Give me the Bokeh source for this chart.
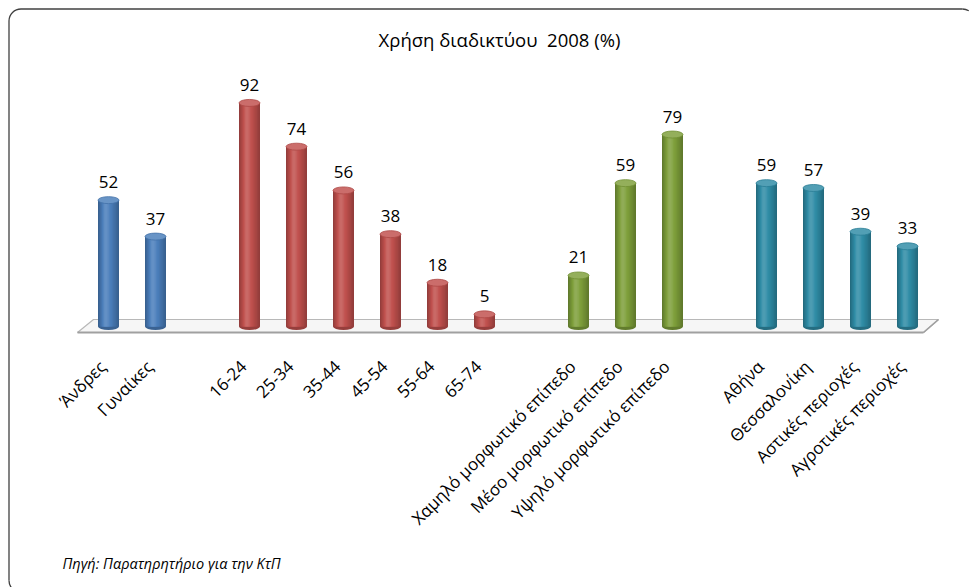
import math
from bokeh.plotting import figure
from bokeh.models import Range1d, Label, ColumnDataSource
from bokeh.core.properties import value
from bokeh.embed import file_html
from bokeh.resources import INLINE

# ---------------- data ----------------
title_text = "Χρήση διαδικτύου\u00a0 2008 (%)"
source_text = "Πηγή: Παρατηρητήριο για την ΚτΠ"

gender_labels = ["Άνδρες", "Γυναίκες"]
gender_values = [52, 37]

age_labels = ["16-24", "25-34", "35-44", "45-54", "55-64", "65-74"]
age_values = [92, 74, 56, 38, 18, 5]

edu_labels = ["Χαμηλό μορφωτικό επίπεδο", "Μέσο μορφωτικό επίπεδο", "Υψηλό μορφωτικό επίπεδο"]
edu_values = [21, 59, 79]

area_labels = ["Αθήνα", "Θεσσαλονίκη", "Αστικές περιοχές", "Αγροτικές περιοχές"]
area_values = [59, 57, 39, 33]

group_colors = ["#4A7EBB", "#C0504D", "#7E9F3A", "#2F8CA6"]

groups = [
    (gender_labels, gender_values),
    (age_labels, age_values),
    (edu_labels, edu_values),
    (area_labels, area_values),
]

# ---------------- layout helpers (page pixels -> data) ----------------
W, H = 974, 587
X0, SLOT = 108.0, 47.0      # page x of slot 0, pixels per slot
Y0, PPU = 326.0, 2.43       # page y of value 0, pixels per unit


def px_x(cx):
    return (cx - X0) / SLOT


def px_y(cy):
    return (Y0 - cy) / PPU


# slot positions: one empty slot between groups
xs, vals, labs, cols = [], [], [], []
pos = 0
for gi, (gl, gv) in enumerate(groups):
    for l, v in zip(gl, gv):
        xs.append(pos)
        vals.append(v)
        labs.append(l)
        cols.append(group_colors[gi])
        pos += 1
    pos += 1


def hex2rgb(h):
    h = h.lstrip("#")
    return tuple(int(h[i:i + 2], 16) for i in (0, 2, 4))


def shade(h, b):
    r, g, bl = hex2rgb(h)
    if b <= 1:
        c = (r * b, g * b, bl * b)
    else:
        k = min(1.0, (b - 1) * 1.4)
        c = (r + (255 - r) * k, g + (255 - g) * k, bl + (255 - bl) * k)
    return "#%02x%02x%02x" % tuple(int(max(0, min(255, round(x)))) for x in c)


p = figure(width=W, height=H, output_backend="svg", toolbar_location=None,
           x_range=Range1d(px_x(0), px_x(W)), y_range=Range1d(px_y(H), px_y(0)),
           x_axis_type=None, y_axis_type=None, min_border=0, title=None)
p.outline_line_color = None
p.background_fill_color = "white"
p.border_fill_color = "white"

# floor
fl_x = [px_x(93), px_x(938), px_x(923), px_x(77)]
fl_y = [px_y(319), px_y(319), px_y(332), px_y(332)]
p.patch(fl_x, fl_y, fill_color="#F6F6F6", line_color="#B8B8B8", line_width=1.2)
p.line([px_x(77), px_x(923)], [px_y(332), px_y(332)], line_color="#A0A0A0", line_width=2.2)
p.line([px_x(923), px_x(938)], [px_y(332), px_y(319)], line_color="#A0A0A0", line_width=1.6)

# cylinders: layered bars, each narrower and lighter, around a highlight left of centre
BW = 21.0 / SLOT
p.ellipse(x=xs, y=[0] * len(xs), width=21, height=7, width_units="screen", height_units="screen",
          fill_color=[shade(c, 0.78) for c in cols], line_color=None)
M = 9
for k in range(M):
    f = 1.0 - k * (0.85 / (M - 1))          # width fraction
    b = 0.76 + 0.34 * (k / (M - 1)) ** 0.9  # brightness
    cx_off = -0.12 * BW * (k / (M - 1))     # highlight shift to the left
    p.vbar(x=[x + cx_off for x in xs], width=BW * f, top=vals, bottom=0,
           fill_color=[shade(c, b) for c in cols], line_color=None)
p.ellipse(x=xs, y=vals, width=21, height=7, width_units="screen", height_units="screen",
          fill_color=[shade(c, 1.12) for c in cols], line_color=[shade(c, 0.9) for c in cols], line_width=0.8)

# value labels
src = ColumnDataSource(dict(x=xs, y=vals, t=[str(v) for v in vals], lab=labs))
p.text(x="x", y="y", text="t", source=src, text_align="center", text_baseline="middle",
       y_offset=-18, text_font=value("Open Sans"), text_font_size="17px", text_color="#000000")

# category labels
p.text(x="x", y=0, text="lab", source=src, angle=math.pi / 4, text_align="right",
       text_baseline="middle", x_offset=-6, y_offset=37,
       text_font=value("Open Sans"), text_font_size="17px", text_color="#000000")

# white strip along the right edge (nothing of the chart lives there)
p.quad(left=[px_x(945)], right=[px_x(W + 10)], top=[px_y(12)], bottom=[px_y(H + 10)],
       fill_color="white", line_color=None)

# rounded frame: only top and left edges are inside the picture
R = 12
bc, bw = "#404040", 1.3
p.line([px_x(8.5 + R), px_x(962)], [px_y(8.5), px_y(8.5)], line_color=bc, line_width=bw)
p.arc(x=[px_x(962)], y=[px_y(8.5 + R)], radius=R, radius_units="screen",
      start_angle=math.pi / 2 - 0.55, end_angle=math.pi / 2, line_color=bc, line_width=bw)
p.line([px_x(8.5), px_x(8.5)], [px_y(8.5 + R), px_y(592 - R)], line_color=bc, line_width=bw)
p.arc(x=[px_x(8.5 + R)], y=[px_y(8.5 + R)], radius=R, radius_units="screen",
      start_angle=math.pi / 2, end_angle=math.pi, line_color=bc, line_width=bw)
p.arc(x=[px_x(8.5 + R)], y=[px_y(592 - R)], radius=R, radius_units="screen",
      start_angle=math.pi, end_angle=1.5 * math.pi, line_color=bc, line_width=bw)

# title and source
p.add_layout(Label(x=px_x(499), y=px_y(39), text=title_text, text_align="center",
                   text_baseline="middle", text_font="Open Sans", text_font_size="18.5px",
                   text_color="#000000"))
p.add_layout(Label(x=px_x(62), y=px_y(563), text=source_text, text_align="left",
                   text_baseline="middle", text_font="Open Sans", text_font_style="italic",
                   text_font_size="14.5px", text_color="#000000"))

open("out.html", "w").write(file_html(p, INLINE))
